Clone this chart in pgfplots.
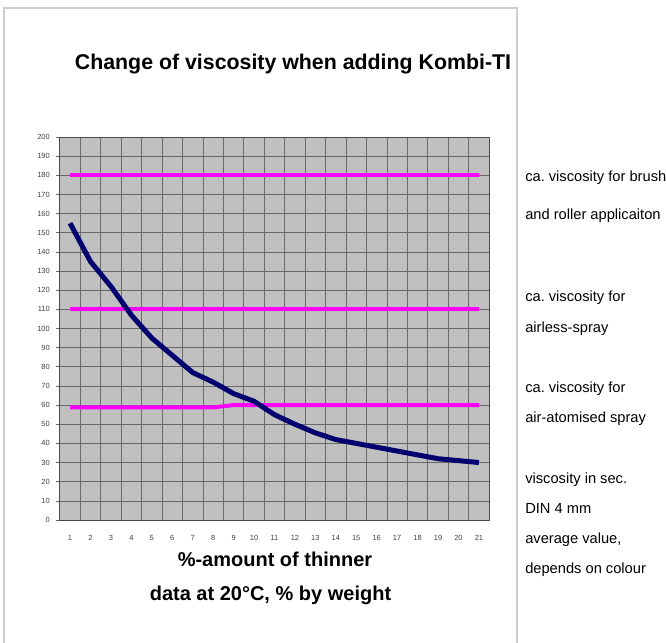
\documentclass[border=0pt]{standalone}
\usepackage{pgfplots}
\pgfplotsset{compat=1.18}
\usepackage{fontspec}
\setmainfont{Liberation Sans}
\frenchspacing
\definecolor{plotbg}{RGB}{192,192,192}
\definecolor{gridc}{RGB}{105,105,105}
\definecolor{mag}{RGB}{255,0,255}
\definecolor{navyc}{RGB}{0,0,110}
\definecolor{framec}{RGB}{205,205,205}
\begin{document}
\begin{tikzpicture}[x=0.75pt,y=0.75pt]
\clip (0,0) rectangle (666,642);
\fill[white] (0,0) rectangle (666,642);
\draw[framec, line width=0.9pt] (4,-10) -- (4,634) -- (517,634) -- (517,-10);
\node[anchor=base, inner sep=0pt, font=\bfseries\fontsize{16}{18}\selectfont] at (293,572) {Change of viscosity when adding Kombi-TI};
\begin{axis}[
  at={(44.85pt,91.5pt)}, anchor=south west,
  scale only axis, width=322pt, height=287.25pt,
  xmin=0.5, xmax=21.5, ymin=0, ymax=200,
  xtick={1,...,21}, ytick={0,10,...,200},
  minor xtick={1.5,2.5,...,20.5},
  xminorgrids=true, xmajorgrids=false, ymajorgrids=true,
  grid style={gridc, line width=0.5pt},
  minor grid style={gridc, line width=0.5pt},
  axis background/.style={fill=plotbg},
  axis line style={gridc!70!black, line width=0.7pt},
  tick label style={font=\fontsize{5.6}{6.5}\selectfont, text=black!75},
  /pgf/number format/assume math mode=true,
  tick align=outside, major tick length=3pt, minor tick length=0pt,
  ytick pos=left,
  xtick style={draw=none},
  ytick style={gridc, line width=0.5pt},
  xticklabel style={yshift=-5pt},
  yticklabel style={xshift=-1pt},
  clip=false,
]
\addplot[mag, line width=3pt] coordinates {(1,180) (21,180)};
\addplot[mag, line width=3pt] coordinates {(1,110) (21,110)};
\addplot[mag, line width=3pt, line join=round] coordinates {(1,58.8) (2,58.8) (3,58.8) (4,58.8) (5,58.8) (6,58.8) (7,58.8) (8,58.8) (9,60) (10,60) (11,60) (12,60) (13,60) (14,60) (15,60) (16,60) (17,60) (18,60) (19,60) (20,60) (21,60)};
\addplot[navyc, line width=3.75pt, line join=round] coordinates {(1,155) (2,135) (3,122) (4,107) (5,95) (6,86) (7,77) (8,72) (9,66) (10,62) (11,55) (12,50) (13,45.5) (14,42) (15,40) (16,38) (17,36) (18,34) (19,32) (20,31) (21,30)};
\end{axis}
\node[anchor=base, inner sep=0pt, font=\bfseries\fontsize{15}{17}\selectfont] at (275,76) {\%-amount of thinner};
\node[anchor=base, inner sep=0pt, font=\bfseries\fontsize{15}{17}\selectfont] at (270.5,42) {data at 20°C, \% by weight};
\begin{scope}[every node/.style={anchor=base west, inner sep=0pt, font=\fontsize{11}{13}\selectfont}]
\node at (525,460) {ca. viscosity for brush};
\node at (525,422) {and roller applicaiton};
\node at (525,340.5) {ca. viscosity for};
\node at (525,309.5) {airless-spray};
\node at (525,249.5) {ca. viscosity for};
\node at (525,219) {air-atomised spray};
\node at (525,159) {viscosity in sec.};
\node at (525,129) {DIN 4 mm};
\node at (525,99) {average value,};
\node at (525,69) {depends on colour};
\end{scope}
\end{tikzpicture}
\end{document}
